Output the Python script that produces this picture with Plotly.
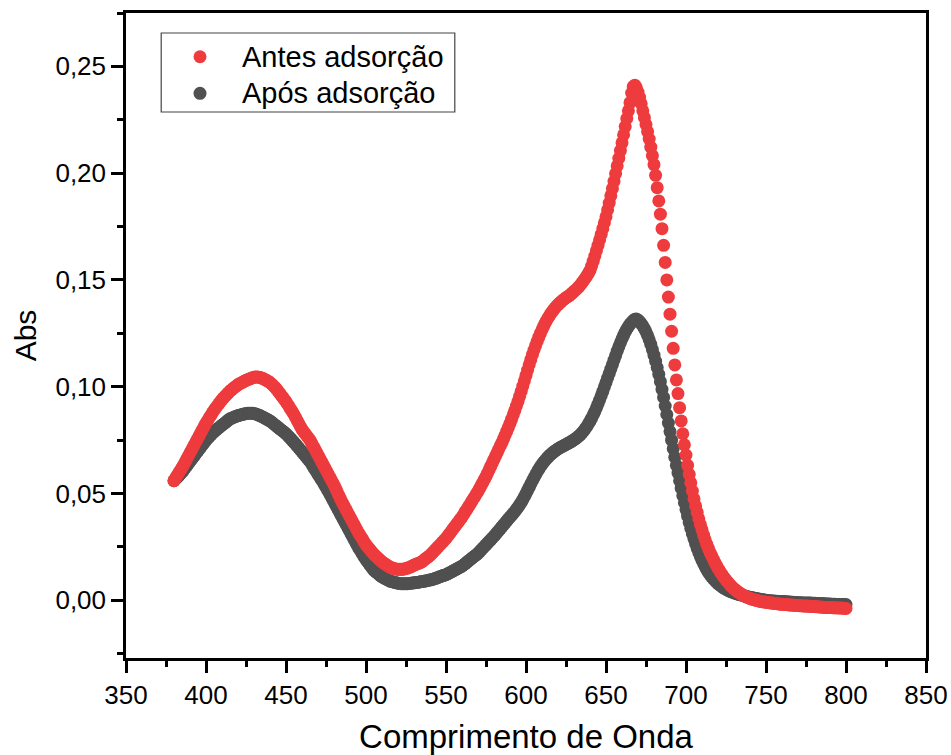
import plotly.graph_objects as go

# Wavelength grid (nm), 1 nm steps
wavelength = list(range(380, 801))

# Absorbance before adsorption
abs_antes = [
    0.0560, 0.0573, 0.0585, 0.0597, 0.0609, 0.0621, 0.0634, 0.0648, 0.0662, 0.0676,
    0.0690, 0.0704, 0.0718, 0.0732, 0.0746, 0.0760, 0.0774, 0.0788, 0.0802, 0.0816,
    0.0830, 0.0842, 0.0854, 0.0866, 0.0878, 0.0890, 0.0900, 0.0910, 0.0920, 0.0930,
    0.0940, 0.0948, 0.0956, 0.0964, 0.0972, 0.0980, 0.0986, 0.0992, 0.0998, 0.1004,
    0.1010, 0.1014, 0.1018, 0.1022, 0.1026, 0.1030, 0.1033, 0.1036, 0.1039, 0.1042,
    0.1045, 0.1046, 0.1046, 0.1045, 0.1043, 0.1040, 0.1037, 0.1033, 0.1029, 0.1025,
    0.1020, 0.1013, 0.1006, 0.0998, 0.0989, 0.0980, 0.0970, 0.0960, 0.0950, 0.0940,
    0.0930, 0.0918, 0.0906, 0.0894, 0.0882, 0.0870, 0.0856, 0.0842, 0.0828, 0.0814,
    0.0800, 0.0790, 0.0780, 0.0770, 0.0760, 0.0750, 0.0736, 0.0722, 0.0708, 0.0694,
    0.0680, 0.0666, 0.0652, 0.0638, 0.0624, 0.0610, 0.0596, 0.0582, 0.0568, 0.0554,
    0.0540, 0.0524, 0.0508, 0.0492, 0.0476, 0.0460, 0.0446, 0.0432, 0.0418, 0.0404,
    0.0390, 0.0376, 0.0362, 0.0348, 0.0334, 0.0320, 0.0308, 0.0296, 0.0284, 0.0272,
    0.0260, 0.0251, 0.0242, 0.0233, 0.0224, 0.0215, 0.0208, 0.0201, 0.0194, 0.0187,
    0.0180, 0.0175, 0.0170, 0.0165, 0.0160, 0.0155, 0.0152, 0.0150, 0.0148, 0.0146,
    0.0145, 0.0145, 0.0145, 0.0146, 0.0147, 0.0149, 0.0151, 0.0154, 0.0157, 0.0161,
    0.0165, 0.0168, 0.0171, 0.0174, 0.0177, 0.0181, 0.0187, 0.0193, 0.0199, 0.0205,
    0.0210, 0.0218, 0.0226, 0.0234, 0.0242, 0.0250, 0.0258, 0.0266, 0.0274, 0.0282,
    0.0290, 0.0300, 0.0310, 0.0320, 0.0330, 0.0340, 0.0350, 0.0360, 0.0370, 0.0380,
    0.0390, 0.0402, 0.0414, 0.0426, 0.0438, 0.0450, 0.0462, 0.0474, 0.0486, 0.0498,
    0.0510, 0.0524, 0.0538, 0.0552, 0.0566, 0.0580, 0.0596, 0.0612, 0.0628, 0.0644,
    0.0660, 0.0676, 0.0692, 0.0708, 0.0724, 0.0740, 0.0757, 0.0774, 0.0792, 0.0810,
    0.0829, 0.0848, 0.0868, 0.0889, 0.0910, 0.0932, 0.0955, 0.0979, 0.1003, 0.1028,
    0.1053, 0.1078, 0.1103, 0.1127, 0.1150, 0.1172, 0.1193, 0.1213, 0.1232, 0.1250,
    0.1267, 0.1283, 0.1298, 0.1312, 0.1325, 0.1337, 0.1348, 0.1358, 0.1368, 0.1377,
    0.1385, 0.1392, 0.1399, 0.1405, 0.1411, 0.1417, 0.1422, 0.1427, 0.1432, 0.1440,
    0.1447, 0.1453, 0.1460, 0.1468, 0.1477, 0.1487, 0.1497, 0.1508, 0.1519, 0.1531,
    0.1545, 0.1565, 0.1588, 0.1612, 0.1637, 0.1662, 0.1688, 0.1714, 0.1740, 0.1768,
    0.1796, 0.1828, 0.1860, 0.1894, 0.1928, 0.1962, 0.1998, 0.2034, 0.2070, 0.2106,
    0.2142, 0.2180, 0.2218, 0.2256, 0.2292, 0.2330, 0.2375, 0.2405, 0.2412, 0.2400,
    0.2380, 0.2355, 0.2325, 0.2292, 0.2260, 0.2228, 0.2195, 0.2160, 0.2122, 0.2082,
    0.2040, 0.1990, 0.1932, 0.1870, 0.1808, 0.1740, 0.1662, 0.1582, 0.1500, 0.1420,
    0.1340, 0.1260, 0.1180, 0.1102, 0.1032, 0.0968, 0.0902, 0.0840, 0.0780, 0.0728,
    0.0680, 0.0632, 0.0590, 0.0550, 0.0512, 0.0475, 0.0442, 0.0412, 0.0382, 0.0355,
    0.0330, 0.0305, 0.0283, 0.0262, 0.0243, 0.0225, 0.0209, 0.0193, 0.0178, 0.0164,
    0.0150, 0.0138, 0.0126, 0.0115, 0.0105, 0.0095, 0.0086, 0.0077, 0.0069, 0.0061,
    0.0054, 0.0048, 0.0042, 0.0037, 0.0032, 0.0027, 0.0023, 0.0019, 0.0015, 0.0012,
    0.0009, 0.0006, 0.0004, 0.0002, 0.0000, -0.0002, -0.0004, -0.0006, -0.0007, -0.0008,
    -0.0009, -0.0010, -0.0011, -0.0012, -0.0013, -0.0014, -0.0015, -0.0016, -0.0017, -0.0018,
    -0.0018, -0.0019, -0.0020, -0.0020, -0.0021, -0.0022, -0.0022, -0.0023, -0.0023, -0.0024,
    -0.0024, -0.0025, -0.0025, -0.0026, -0.0026, -0.0027, -0.0027, -0.0028, -0.0028, -0.0029,
    -0.0029, -0.0030, -0.0030, -0.0031, -0.0031, -0.0032, -0.0032, -0.0033, -0.0033, -0.0034,
    -0.0034, -0.0034, -0.0035, -0.0035, -0.0035, -0.0036, -0.0036, -0.0036, -0.0037, -0.0037,
    -0.0038,
]

# Absorbance after adsorption
abs_apos = [
    0.0560, 0.0568, 0.0576, 0.0584, 0.0592, 0.0600, 0.0610, 0.0620, 0.0630, 0.0640,
    0.0650, 0.0660, 0.0670, 0.0680, 0.0690, 0.0700, 0.0710, 0.0720, 0.0730, 0.0740,
    0.0750, 0.0758, 0.0766, 0.0774, 0.0782, 0.0790, 0.0796, 0.0802, 0.0808, 0.0814,
    0.0820, 0.0826, 0.0832, 0.0838, 0.0844, 0.0850, 0.0853, 0.0856, 0.0859, 0.0862,
    0.0865, 0.0867, 0.0869, 0.0871, 0.0873, 0.0875, 0.0876, 0.0876, 0.0876, 0.0876,
    0.0875, 0.0873, 0.0870, 0.0867, 0.0864, 0.0860, 0.0856, 0.0852, 0.0848, 0.0844,
    0.0840, 0.0834, 0.0828, 0.0822, 0.0816, 0.0810, 0.0804, 0.0798, 0.0792, 0.0786,
    0.0780, 0.0772, 0.0764, 0.0756, 0.0748, 0.0740, 0.0731, 0.0722, 0.0713, 0.0704,
    0.0695, 0.0686, 0.0677, 0.0668, 0.0659, 0.0650, 0.0638, 0.0626, 0.0614, 0.0602,
    0.0590, 0.0578, 0.0566, 0.0554, 0.0542, 0.0530, 0.0516, 0.0502, 0.0488, 0.0474,
    0.0460, 0.0446, 0.0432, 0.0418, 0.0404, 0.0390, 0.0376, 0.0362, 0.0348, 0.0334,
    0.0320, 0.0306, 0.0292, 0.0278, 0.0264, 0.0250, 0.0238, 0.0226, 0.0214, 0.0202,
    0.0190, 0.0180, 0.0170, 0.0160, 0.0150, 0.0140, 0.0134, 0.0128, 0.0122, 0.0116,
    0.0110, 0.0106, 0.0102, 0.0098, 0.0094, 0.0090, 0.0088, 0.0086, 0.0084, 0.0082,
    0.0080, 0.0079, 0.0078, 0.0078, 0.0078, 0.0078, 0.0078, 0.0079, 0.0080, 0.0081,
    0.0082, 0.0083, 0.0084, 0.0085, 0.0087, 0.0088, 0.0089, 0.0091, 0.0092, 0.0094,
    0.0095, 0.0097, 0.0099, 0.0102, 0.0104, 0.0107, 0.0110, 0.0113, 0.0116, 0.0118,
    0.0120, 0.0124, 0.0128, 0.0132, 0.0136, 0.0140, 0.0144, 0.0148, 0.0152, 0.0156,
    0.0160, 0.0166, 0.0172, 0.0178, 0.0184, 0.0190, 0.0196, 0.0202, 0.0208, 0.0214,
    0.0220, 0.0228, 0.0236, 0.0244, 0.0252, 0.0260, 0.0268, 0.0276, 0.0284, 0.0292,
    0.0300, 0.0309, 0.0318, 0.0327, 0.0336, 0.0345, 0.0354, 0.0363, 0.0372, 0.0381,
    0.0390, 0.0398, 0.0407, 0.0416, 0.0426, 0.0436, 0.0447, 0.0459, 0.0472, 0.0486,
    0.0500, 0.0515, 0.0530, 0.0545, 0.0560, 0.0574, 0.0588, 0.0601, 0.0614, 0.0626,
    0.0637, 0.0647, 0.0656, 0.0665, 0.0673, 0.0680, 0.0687, 0.0693, 0.0699, 0.0704,
    0.0709, 0.0714, 0.0718, 0.0722, 0.0726, 0.0730, 0.0734, 0.0738, 0.0742, 0.0747,
    0.0752, 0.0757, 0.0763, 0.0769, 0.0776, 0.0784, 0.0793, 0.0803, 0.0814, 0.0826,
    0.0839, 0.0853, 0.0868, 0.0884, 0.0901, 0.0919, 0.0938, 0.0958, 0.0978, 0.0999,
    0.1020, 0.1041, 0.1062, 0.1083, 0.1104, 0.1125, 0.1146, 0.1167, 0.1187, 0.1206,
    0.1224, 0.1241, 0.1256, 0.1270, 0.1282, 0.1293, 0.1302, 0.1310, 0.1316, 0.1317,
    0.1312, 0.1305, 0.1296, 0.1285, 0.1272, 0.1257, 0.1240, 0.1220, 0.1198, 0.1174,
    0.1148, 0.1120, 0.1090, 0.1058, 0.1024, 0.0988, 0.0950, 0.0910, 0.0870, 0.0830,
    0.0790, 0.0750, 0.0710, 0.0670, 0.0632, 0.0596, 0.0560, 0.0525, 0.0490, 0.0457,
    0.0425, 0.0394, 0.0365, 0.0337, 0.0311, 0.0287, 0.0264, 0.0243, 0.0223, 0.0205,
    0.0188, 0.0172, 0.0157, 0.0143, 0.0131, 0.0120, 0.0110, 0.0101, 0.0093, 0.0085,
    0.0078, 0.0072, 0.0066, 0.0061, 0.0056, 0.0052, 0.0048, 0.0044, 0.0041, 0.0038,
    0.0035, 0.0032, 0.0030, 0.0028, 0.0026, 0.0024, 0.0022, 0.0020, 0.0018, 0.0016,
    0.0014, 0.0013, 0.0011, 0.0010, 0.0008, 0.0007, 0.0005, 0.0004, 0.0003, 0.0001,
    0.0000, -0.0001, -0.0002, -0.0002, -0.0003, -0.0003, -0.0004, -0.0004, -0.0005, -0.0005,
    -0.0006, -0.0006, -0.0007, -0.0007, -0.0008, -0.0008, -0.0009, -0.0009, -0.0010, -0.0010,
    -0.0011, -0.0011, -0.0011, -0.0012, -0.0012, -0.0012, -0.0013, -0.0013, -0.0013, -0.0014,
    -0.0014, -0.0014, -0.0015, -0.0015, -0.0015, -0.0016, -0.0016, -0.0016, -0.0017, -0.0017,
    -0.0017, -0.0018, -0.0018, -0.0018, -0.0019, -0.0019, -0.0019, -0.0019, -0.0020, -0.0020,
    -0.0020,
]

series_names = ["Antes adsorção", "Após adsorção"]
series_colors = ["#EE3B3D", "#505050"]

FONT = "Liberation Sans, Arial, sans-serif"
MARKER_SIZE = 13

fig = go.Figure()
# "Após" drawn first so the red series sits on top where they overlap
fig.add_trace(go.Scatter(
    x=wavelength, y=abs_apos, mode="markers", name=series_names[1],
    marker=dict(size=MARKER_SIZE, color=series_colors[1], line=dict(width=0)),
    showlegend=False,
))
fig.add_trace(go.Scatter(
    x=wavelength, y=abs_antes, mode="markers", name=series_names[0],
    marker=dict(size=MARKER_SIZE, color=series_colors[0], line=dict(width=0)),
    showlegend=False,
))

axis_common = dict(
    showline=True, linecolor="black", linewidth=2.5, mirror=True,
    ticks="outside", ticklen=12, tickwidth=2.5, tickcolor="black",
    showgrid=False, zeroline=False, automargin=False,
    tickfont=dict(family=FONT, size=26, color="black"),
)

# Boxed legend in the upper-left corner of the plot area (paper coordinates)
box_x0, box_x1 = 0.044, 0.411
box_y0, box_y1 = 0.8465, 0.969
row_y = [0.9322, 0.8755]
sym_x = 0.0925
text_x = 0.1425

shapes = [dict(
    type="rect", xref="paper", yref="paper",
    x0=box_x0, x1=box_x1, y0=box_y0, y1=box_y1,
    line=dict(color="#444444", width=1.2), fillcolor="white", layer="above",
)]
annotations = []
for name, color, yy in zip(series_names, series_colors, row_y):
    r = MARKER_SIZE / 2
    shapes.append(dict(
        type="circle", xref="paper", yref="paper",
        xsizemode="pixel", ysizemode="pixel",
        xanchor=sym_x, yanchor=yy, x0=-r, x1=r, y0=-r, y1=r,
        line=dict(width=0), fillcolor=color, layer="above",
    ))
    annotations.append(dict(
        xref="paper", yref="paper", x=text_x, y=yy,
        xanchor="left", yanchor="middle", showarrow=False,
        text=name, font=dict(family=FONT, size=29, color="black"),
    ))

fig.update_layout(
    width=951, height=755,
    margin=dict(l=126, r=25, t=13, b=97),
    paper_bgcolor="white", plot_bgcolor="white",
    separators=",.",
    font=dict(family=FONT, color="black"),
    showlegend=False,
    xaxis=dict(
        range=[350, 850], tick0=350, dtick=50,
        minor=dict(dtick=25, ticks="outside", ticklen=6, tickwidth=2.5, tickcolor="black"),
        title=dict(text="Comprimento de Onda", font=dict(family=FONT, size=33), standoff=25),
        **axis_common,
    ),
    yaxis=dict(
        range=[-0.027, 0.275], tick0=0, dtick=0.05, tickformat=".2f",
        minor=dict(dtick=0.025, ticks="outside", ticklen=6, tickwidth=2.5, tickcolor="black"),
        title=dict(text="Abs", font=dict(family=FONT, size=30), standoff=10),
        **axis_common,
    ),
    shapes=shapes,
    annotations=annotations,
)

fig.write_html("out.html")
